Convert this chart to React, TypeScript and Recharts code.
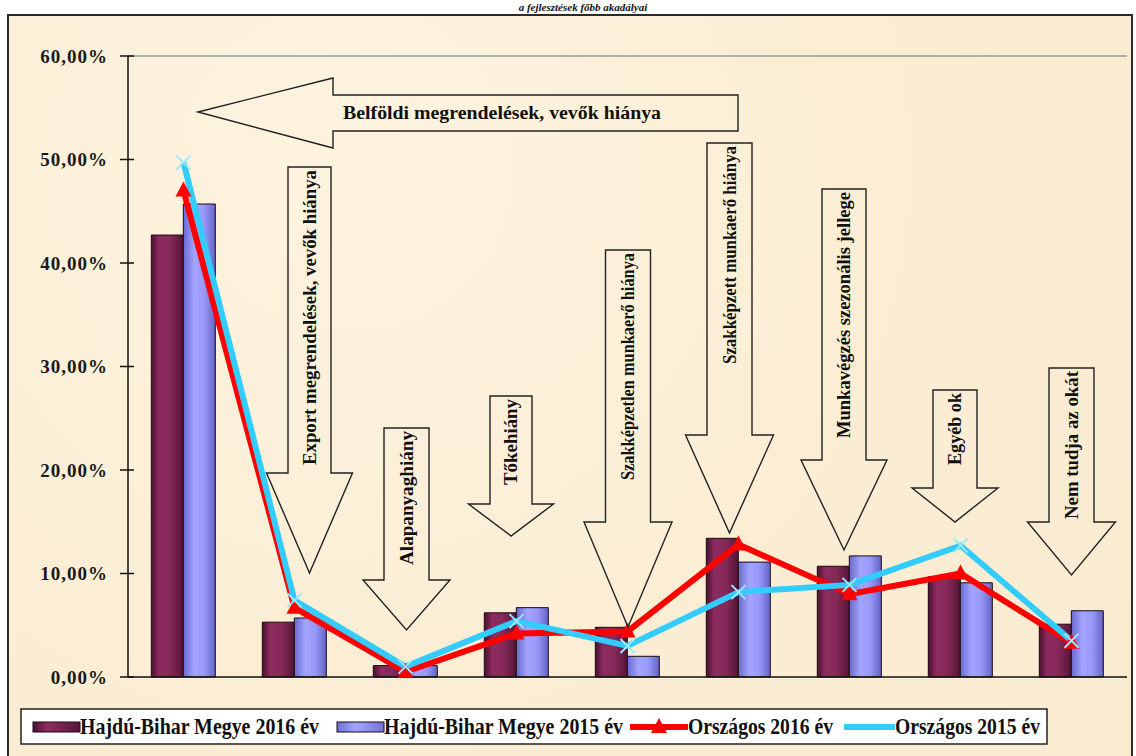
import React from 'react';
import { ComposedChart, Bar, Line, XAxis, YAxis, ReferenceLine } from 'recharts';

const categories = [
  'Belföldi megrendelések, vevők hiánya',
  'Export megrendelések, vevők hiánya',
  'Alapanyaghiány',
  'Tőkehiány',
  'Szakképzetlen munkaerő hiánya',
  'Szakképzett munkaerő hiánya',
  'Munkavégzés szezonális jellege',
  'Egyéb ok',
  'Nem tudja az okát',
];
const hb2016 = [42.7, 5.3, 1.1, 6.2, 4.8, 13.4, 10.7, 9.7, 5.1];
const hb2015 = [45.7, 5.7, 1.1, 6.7, 2.0, 11.1, 11.7, 9.1, 6.4];
const orsz2016 = [47.0, 6.7, 0.5, 4.2, 4.4, 12.8, 8.0, 10.0, 3.3];
const orsz2015 = [49.7, 7.4, 1.0, 5.4, 3.0, 8.2, 8.9, 12.7, 3.5];
const yTicks = [0, 10, 20, 30, 40, 50, 60];
const seriesNames = ['Hajdú-Bihar Megye  2016 év', 'Hajdú-Bihar Megye  2015 év', 'Országos 2016 év', 'Országos 2015 év'];
const titleText = 'a fejlesztések főbb akadályai';

const data = categories.map((name, i) => ({
  name,
  hb2016: hb2016[i],
  hb2015: hb2015[i],
  orsz2016: orsz2016[i],
  orsz2015: orsz2015[i],
}));

// annotation arrows (decorative shapes, pixel geometry)
const vArrows = [
  { cat: 1, cx: 309.5, sw: 43, hw: 86, top: 167, base: 473, tip: 573, tl: 295 },
  { cat: 2, cx: 406.5, sw: 45, hw: 87, top: 428, base: 580, tip: 630, tl: 134 },
  { cat: 3, cx: 511, sw: 42, hw: 85, top: 396, base: 504, tip: 536, tl: 86 },
  { cat: 4, cx: 628, sw: 45, hw: 88, top: 250, base: 522, tip: 627, tl: 227 },
  { cat: 5, cx: 729.5, sw: 45, hw: 88, top: 143, base: 435, tip: 533, tl: 218 },
  { cat: 6, cx: 844, sw: 44, hw: 86, top: 189, base: 460, tip: 550, tl: 246 },
  { cat: 7, cx: 955, sw: 44, hw: 86, top: 390, base: 488, tip: 522, tl: 72 },
  { cat: 8, cx: 1071.5, sw: 45, hw: 88, top: 368, base: 522, tip: 575, tl: 148 },
];

const FONT = '"Liberation Serif", "Times New Roman", serif';

const fmtPct = (v: number) => v.toFixed(2).replace('.', ',') + '%';

const YTick = (props: any) => {
  const { y, payload } = props;
  return (
    <g>
      <line x1={120} x2={134} y1={y} y2={y} stroke="#111" strokeWidth={1.5} />
      <text x={108} y={y} dy={6.5} textAnchor="end" fontFamily={FONT} fontWeight="bold" fontSize={19} letterSpacing={1} fill="#1a1a1a">
        {fmtPct(payload.value)}
      </text>
    </g>
  );
};

const RedDot = (props: any) => {
  const { cx, cy } = props;
  if (cx == null || cy == null) return null;
  return <polygon points={`${cx},${cy - 9} ${cx - 8},${cy + 6} ${cx + 8},${cy + 6}`} fill="#ff0000" />;
};

const CyanDot = (props: any) => {
  const { cx, cy } = props;
  if (cx == null || cy == null) return null;
  return (
    <g stroke="#9be8ff" strokeWidth={2}>
      <line x1={cx - 7} y1={cy - 7} x2={cx + 7} y2={cy + 7} />
      <line x1={cx - 7} y1={cy + 7} x2={cx + 7} y2={cy - 7} />
    </g>
  );
};

const Overlay = () => {
  const stroke = '#222';
  return (
    <svg width={1136} height={756} style={{ position: 'absolute', left: 0, top: 0, pointerEvents: 'none' }}>
      <defs>
        <linearGradient id="lgMaroon" x1="0" y1="0" x2="1" y2="0">
          <stop offset="0" stopColor="#4a0f2e" />
          <stop offset="0.3" stopColor="#8e2c60" />
          <stop offset="1" stopColor="#5a1739" />
        </linearGradient>
        <linearGradient id="lgBlue" x1="0" y1="0" x2="1" y2="0">
          <stop offset="0" stopColor="#6f6fd8" />
          <stop offset="0.4" stopColor="#a4a4ff" />
          <stop offset="1" stopColor="#7373d8" />
        </linearGradient>
      </defs>
      {/* horizontal arrow */}
      <polygon
        points="198,112 333,78 333,95 738,95 738,131 333,131 333,148"
        fill="none"
        stroke={stroke}
        strokeWidth={1.4}
      />
      <text x={343} y={119} fontFamily={FONT} fontWeight="bold" fontSize={18} fill="#111" textLength={318} lengthAdjust="spacingAndGlyphs">
        {categories[0]}
      </text>
      {vArrows.map((a) => {
        const s1 = a.cx - a.sw / 2;
        const s2 = a.cx + a.sw / 2;
        const h1 = a.cx - a.hw / 2;
        const h2 = a.cx + a.hw / 2;
        const pts = `${s1},${a.top} ${s2},${a.top} ${s2},${a.base} ${h2},${a.base} ${a.cx},${a.tip} ${h1},${a.base} ${s1},${a.base}`;
        const tx = a.cx + 6;
        const ty = a.top + 3;
        return (
          <g key={a.cat}>
            <polygon points={pts} fill="none" stroke={stroke} strokeWidth={1.4} />
            <text
              x={tx}
              y={ty}
              transform={`rotate(-90 ${tx} ${ty})`}
              textAnchor="end"
              fontFamily={FONT}
              fontWeight="bold"
              fontSize={18}
              fill="#111"
              textLength={a.tl}
              lengthAdjust="spacingAndGlyphs"
            >
              {categories[a.cat]}
            </text>
          </g>
        );
      })}
      {/* legend */}
      <rect x={21} y={709} width={1026} height={35} fill="#ffffff" stroke="#222" strokeWidth={1.5} />
      <rect x={33} y={722} width={47} height={10} fill="url(#lgMaroon)" stroke="#1a0a14" strokeWidth={1} />
      <text x={80} y={734} fontFamily={FONT} fontWeight="bold" fontSize={23} fill="#111" textLength={239} lengthAdjust="spacingAndGlyphs">
        {seriesNames[0]}
      </text>
      <rect x={337} y={722} width={47} height={10} fill="url(#lgBlue)" stroke="#1a0a14" strokeWidth={1} />
      <text x={384} y={734} fontFamily={FONT} fontWeight="bold" fontSize={23} fill="#111" textLength={239} lengthAdjust="spacingAndGlyphs">
        {seriesNames[1]}
      </text>
      <line x1={630} x2={688} y1={727} y2={727} stroke="#ff0000" strokeWidth={6} />
      <polygon points="659,718 651,733 667,733" fill="#ff0000" />
      <text x={688} y={734} fontFamily={FONT} fontWeight="bold" fontSize={23} fill="#111" textLength={145} lengthAdjust="spacingAndGlyphs">
        {seriesNames[2]}
      </text>
      <line x1={844} x2={895} y1={727} y2={727} stroke="#33ccff" strokeWidth={6} />
      <text x={895} y={734} fontFamily={FONT} fontWeight="bold" fontSize={23} fill="#111" textLength={145} lengthAdjust="spacingAndGlyphs">
        {seriesNames[3]}
      </text>
      {/* title, above the chart frame */}
      <text x={583} y={11} textAnchor="middle" fontFamily={FONT} fontStyle="italic" fontWeight="bold" fontSize={11} fill="#111">
        {titleText}
      </text>
    </svg>
  );
};

export default function App() {
  return (
    <div style={{ position: 'relative', width: 1136, height: 756, overflow: 'hidden', background: '#ffffff' }}>
      <style>{'body{margin:0}'}</style>
      <div
        style={{
          position: 'absolute',
          left: 7,
          top: 14,
          width: 1126,
          height: 760,
          boxSizing: 'border-box',
          border: '2px solid #2a2a2a',
          background: 'radial-gradient(circle at 30% 20%, #fdf3df 0%, #fbeed5 50%, #f9ebd0 100%)',
        }}
      />
      <div style={{ position: 'absolute', left: 0, top: 0 }}>
        <ComposedChart
          width={1136}
          height={756}
          data={data}
          margin={{ top: 56, right: 9, bottom: 78, left: 0 }}
          barGap={0}
          barCategoryGap="21%"
        >
          <defs>
            <linearGradient id="gMaroon" x1="0" y1="0" x2="1" y2="0">
              <stop offset="0" stopColor="#4a0f2e" />
              <stop offset="0.25" stopColor="#8e2c60" />
              <stop offset="0.6" stopColor="#852959" />
              <stop offset="1" stopColor="#551535" />
            </linearGradient>
            <linearGradient id="gBlue" x1="0" y1="0" x2="1" y2="0">
              <stop offset="0" stopColor="#6a6ad0" />
              <stop offset="0.35" stopColor="#a3a3ff" />
              <stop offset="0.65" stopColor="#9898f8" />
              <stop offset="1" stopColor="#6464c8" />
            </linearGradient>
          </defs>
          <XAxis dataKey="name" tick={false} tickLine={false} height={1} axisLine={{ stroke: '#111', strokeWidth: 1.5 }} />
          <YAxis
            width={128}
            domain={[0, 60]}
            ticks={yTicks}
            interval={0}
            tickLine={false}
            axisLine={{ stroke: '#111', strokeWidth: 1.5 }}
            tick={<YTick />}
          />
          <YAxis
            yAxisId="right"
            orientation="right"
            width={0}
            domain={[0, 60]}
            tick={false}
            tickLine={false}
            axisLine={{ stroke: '#9a9a9a', strokeWidth: 1.5 }}
          />
          <ReferenceLine y={60} stroke="#9a9a9a" strokeWidth={1.5} />
          <Bar dataKey="hb2016" fill="url(#gMaroon)" stroke="#1a0a14" strokeWidth={1} isAnimationActive={false} />
          <Bar dataKey="hb2015" fill="url(#gBlue)" stroke="#1a0a14" strokeWidth={1} isAnimationActive={false} />
          <Line
            type="linear"
            dataKey="orsz2016"
            stroke="#ff0000"
            strokeWidth={6}
            dot={<RedDot />}
            activeDot={false}
            isAnimationActive={false}
          />
          <Line
            type="linear"
            dataKey="orsz2015"
            stroke="#33ccff"
            strokeWidth={6}
            dot={<CyanDot />}
            activeDot={false}
            isAnimationActive={false}
          />
        </ComposedChart>
      </div>
      <Overlay />
    </div>
  );
}
